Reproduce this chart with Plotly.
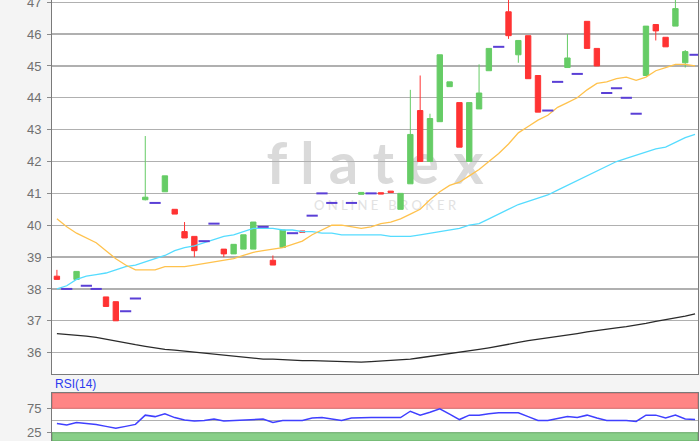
import plotly.graph_objects as go

# ---------------- data ----------------
day = list(range(66))

open_ = [38.4, 38.0, 38.3, 38.1, 38.0, 37.75, 37.6, 37.3, 37.7, 40.8,
         40.7, 41.05, 40.5, 39.8, 39.65, 39.5, 40.05, 39.25, 39.1, 39.25,
         39.25, 39.95, 38.9, 39.3, 39.75, 39.82, 40.3, 41.0, 40.7, None,
         40.7, 40.97, 41.0, 41.02, 41.07, 40.5, 41.3, 43.6, 42.0, 43.25,
         44.35, 43.85, 42.0, 43.65, 44.85, 45.6, 46.7, 45.35, 45.95, 44.7,
         43.6, 44.5, 44.95, 44.75, 46.4, 45.55, 44.15, 44.3, 44.0, 43.5,
         44.7, 46.3, 45.9, 46.25, 45.1, 45.35]
high = [38.6, 38.0, 38.55, 38.1, 38.0, 37.75, 37.6, 37.3, 37.7, 42.8,
        40.7, 41.55, 40.5, 40.1, 39.65, 39.5, 40.05, 39.25, 39.4, 39.7,
        40.1, 39.95, 39.05, 39.85, 39.75, 39.82, 40.3, 41.0, 40.7, None,
        40.7, 41.03, 41.0, 41.02, 41.07, 41.0, 44.25, 44.7, 43.5, 45.35,
        44.5, 43.85, 43.85, 45.05, 45.55, 45.6, 47.3, 45.8, 45.95, 44.7,
        43.6, 44.5, 46.0, 44.75, 46.4, 45.55, 44.15, 44.3, 44.0, 43.5,
        46.25, 46.3, 45.9, 47.3, 45.5, 45.35]
low = [38.3, 38.0, 38.3, 38.1, 38.0, 37.45, 37.0, 37.3, 37.7, 40.78,
       40.7, 41.05, 40.35, 39.6, 39.0, 39.5, 40.05, 39.0, 39.1, 39.25,
       39.25, 39.95, 38.75, 39.3, 39.75, 39.78, 40.3, 41.0, 40.7, None,
       40.7, 40.97, 41.0, 40.98, 41.03, 40.5, 41.3, 42.0, 42.0, 43.25,
       44.35, 42.45, 42.0, 43.65, 44.85, 45.6, 45.85, 45.1, 44.6, 43.55,
       43.6, 44.5, 44.95, 44.75, 45.55, 45.0, 44.15, 44.3, 44.0, 43.5,
       44.7, 45.8, 45.6, 46.25, 44.95, 45.35]
close = [38.3, 38.0, 38.55, 38.1, 38.0, 37.45, 37.0, 37.3, 37.7, 40.88,
         40.7, 41.55, 40.35, 39.6, 39.2, 39.5, 40.05, 39.1, 39.4, 39.7,
         40.1, 39.95, 38.75, 39.85, 39.75, 39.78, 40.3, 41.0, 40.7, None,
         40.7, 41.03, 41.0, 40.98, 41.03, 41.0, 42.85, 42.0, 43.35, 45.35,
         44.5, 42.45, 43.85, 44.15, 45.55, 45.6, 45.95, 45.8, 44.6, 43.55,
         43.6, 44.5, 45.25, 44.75, 45.55, 45.0, 44.15, 44.3, 44.0, 43.5,
         46.25, 46.1, 45.6, 46.8, 45.45, 45.35]

ma_short = [40.2, 39.95, 39.75, 39.6, 39.45, 39.2, 38.95, 38.75, 38.6, 38.6,
            38.6, 38.7, 38.7, 38.7, 38.75, 38.8, 38.85, 38.9, 38.95, 39.05,
            39.15, 39.2, 39.25, 39.3, 39.4, 39.5, 39.7, 39.85, 40.0, 40.0,
            39.95, 39.9, 39.95, 40.05, 40.1, 40.2, 40.35, 40.5, 40.8, 41.05,
            41.25, 41.35, 41.55, 41.75, 42.0, 42.25, 42.55, 42.9, 43.1, 43.3,
            43.45, 43.7, 43.85, 44.0, 44.25, 44.45, 44.5, 44.6, 44.65, 44.55,
            44.65, 44.85, 44.95, 45.05, 45.05, 45.0]
ma_mid = [38.0, 38.1, 38.3, 38.4, 38.45, 38.5, 38.6, 38.7, 38.75, 38.85,
          38.95, 39.05, 39.2, 39.3, 39.35, 39.45, 39.55, 39.65, 39.7, 39.8,
          39.9, 39.9, 39.9, 39.85, 39.85, 39.8, 39.8, 39.75, 39.75, 39.7,
          39.7, 39.7, 39.7, 39.7, 39.65, 39.65, 39.65, 39.7, 39.75, 39.8,
          39.85, 39.9, 40.0, 40.05, 40.2, 40.35, 40.5, 40.65, 40.75, 40.85,
          40.95, 41.1, 41.25, 41.4, 41.55, 41.7, 41.85, 42.0, 42.1, 42.2,
          42.3, 42.4, 42.45, 42.6, 42.75, 42.85]
ma_long = [36.6, 36.58, 36.55, 36.52, 36.48, 36.42, 36.35, 36.3, 36.25, 36.2,
           36.15, 36.1, 36.08, 36.05, 36.0, 35.97, 35.95, 35.92, 35.88, 35.85,
           35.82, 35.8, 35.8, 35.78, 35.76, 35.75, 35.75, 35.74, 35.74, 35.73,
           35.72, 35.7, 35.72, 35.74, 35.75, 35.77, 35.8, 35.84, 35.88, 35.93,
           35.98, 36.02, 36.06, 36.1, 36.15, 36.2, 36.25, 36.32, 36.38, 36.42,
           36.46, 36.5, 36.55, 36.6, 36.65, 36.7, 36.74, 36.78, 36.82, 36.86,
           36.92, 36.98, 37.03, 37.08, 37.15, 37.22]
rsi = [44, 41, 46, 44, 42, 38, 34, 38, 42, 61,
       58, 64, 56, 51, 49, 50, 53, 49, 50, 51,
       53, 53, 46, 50, 50, 50, 55, 56, 53, 50,
       55, 56, 56, 56, 56, 56, 69, 61, 67, 74,
       63, 52, 61, 61, 64, 66, 66, 66, 58, 50,
       50, 54, 58, 56, 61, 55, 50, 50, 50, 48,
       61, 61, 55, 61, 53, 52]

price_ticks = [36, 37, 38, 39, 40, 41, 42, 43, 44, 45, 46, 47]
rsi_ticks = [25, 75]

# split real candles from flat (no-range) days
cx, co, ch, cl, cc = [], [], [], [], []
fx, fy = [], []
for i, o, h, l, c in zip(day, open_, high, low, close):
    if o is None:
        continue
    if h == l:
        fx.append(i)
        fy.append(c)
    else:
        cx.append(i); co.append(o); ch.append(h); cl.append(l); cc.append(c)

GREEN = "#66cc66"
RED = "#ff3333"
FONT = "Liberation Sans"

fig = go.Figure()

fig.add_trace(go.Scatter(x=day, y=ma_long, mode="lines",
                         line=dict(color="#2a2a2a", width=1.3), hoverinfo="skip"))
fig.add_trace(go.Scatter(x=day, y=ma_mid, mode="lines",
                         line=dict(color="#55dcff", width=1.3), hoverinfo="skip"))
fig.add_trace(go.Scatter(x=day, y=ma_short, mode="lines",
                         line=dict(color="#ffc24d", width=1.3), hoverinfo="skip"))

fig.add_trace(go.Candlestick(
    x=cx, open=co, high=ch, low=cl, close=cc,
    increasing=dict(line=dict(color=GREEN, width=1), fillcolor=GREEN),
    decreasing=dict(line=dict(color=RED, width=1), fillcolor=RED),
    whiskerwidth=0, hoverinfo="skip"))

fig.add_trace(go.Scatter(x=fx, y=fy, mode="markers",
                         marker=dict(symbol="line-ew", size=8,
                                     line=dict(color="#5a3fd6", width=2)),
                         hoverinfo="skip"))

fig.add_trace(go.Scatter(x=day, y=rsi, mode="lines", xaxis="x2", yaxis="y2",
                         line=dict(color="#3f3fff", width=1.5), hoverinfo="skip"))

x_dom = [52 / 700, 698 / 700]
fig.update_layout(
    width=700, height=441,
    margin=dict(l=0, r=0, t=0, b=0, autoexpand=False),
    paper_bgcolor="#f4f4f4",
    plot_bgcolor="#ffffff",
    showlegend=False,
    boxgap=0.22,
    hovermode=False,
    font=dict(family=FONT, size=13, color="#707070"),
    xaxis=dict(domain=x_dom, range=[-0.5, 65.3], showgrid=False,
               showticklabels=False, ticks="", zeroline=False,
               showline=True, linecolor="#7a7a7a", linewidth=1, mirror=True,
               rangeslider=dict(visible=False), fixedrange=True),
    yaxis=dict(domain=[1 - 374 / 441, 1], range=[35.33, 47.07],
               tickvals=price_ticks, ticktext=[str(t) for t in price_ticks],
               showgrid=True, gridcolor="#b0b0b0", gridwidth=1.2,
               ticks="outside", ticklen=4, tickcolor="#8a8a8a",
               ticklabelstandoff=3, ticklabeloverflow="allow",
               zeroline=False, showline=True, linecolor="#7a7a7a", linewidth=1,
               mirror=True, tickfont=dict(size=13, color="#707070")),
    xaxis2=dict(domain=x_dom, range=[-0.5, 65.3], anchor="y2", showgrid=False,
                showticklabels=False, ticks="", zeroline=False,
                showline=True, linecolor="#7a7a7a", linewidth=1, mirror=True),
    yaxis2=dict(domain=[0, (441 - 393) / 441], range=[8, 106.4], anchor="x2",
                tickvals=rsi_ticks, ticktext=[str(t) for t in rsi_ticks],
                showgrid=False, ticks="outside", ticklen=4, tickcolor="#8a8a8a",
                ticklabelstandoff=3, ticklabeloverflow="allow",
                zeroline=False, showline=True, linecolor="#7a7a7a", linewidth=1,
                mirror=True, tickfont=dict(size=13, color="#707070")),
    shapes=[
        dict(type="rect", xref="x2 domain", yref="y2", x0=0, x1=1, y0=75, y1=106.4,
             fillcolor="#ff8585", line=dict(color="#d46a6a", width=1), layer="below"),
        dict(type="rect", xref="x2 domain", yref="y2", x0=0, x1=1, y0=8, y1=25,
             fillcolor="#88cf88", line=dict(color="#66a866", width=1), layer="below"),
        dict(type="line", xref="x2 domain", yref="y2", x0=0, x1=1, y0=50, y1=50,
             line=dict(color="#b0b0b0", width=1.2), layer="below"),
        # watermark (drawn beneath the data)
        dict(type="rect", xref="paper", yref="paper",
             x0=250 / 700, x1=500 / 700, y0=1 - 190 / 441, y1=1 - 130 / 441,
             fillcolor="rgba(0,0,0,0)", line=dict(width=0), layer="below",
             label=dict(text="<b>f l a t e x</b>", textposition="middle center",
                        font=dict(family="Lato", size=58, color="#dadada"))),
        dict(type="rect", xref="paper", yref="paper",
             x0=280 / 700, x1=490 / 700, y0=1 - 213 / 441, y1=1 - 197 / 441,
             fillcolor="rgba(0,0,0,0)", line=dict(width=0), layer="below",
             label=dict(text="O N L I N E   B R O K E R", textposition="middle center",
                        font=dict(family="Lato", size=13, color="#e2e2e2"))),
    ],
    annotations=[
        dict(text="RSI(14)", xref="paper", yref="paper", x=53 / 700, y=1 - 384 / 441,
             xanchor="left", yanchor="middle", showarrow=False,
             font=dict(family=FONT, size=12, color="#2b3bf0")),
    ],
)

fig.write_html("out.html",
               config=dict(displayModeBar=False, staticPlot=True),
               post_script="document.body.style.margin='0';document.body.style.overflow='hidden';")
